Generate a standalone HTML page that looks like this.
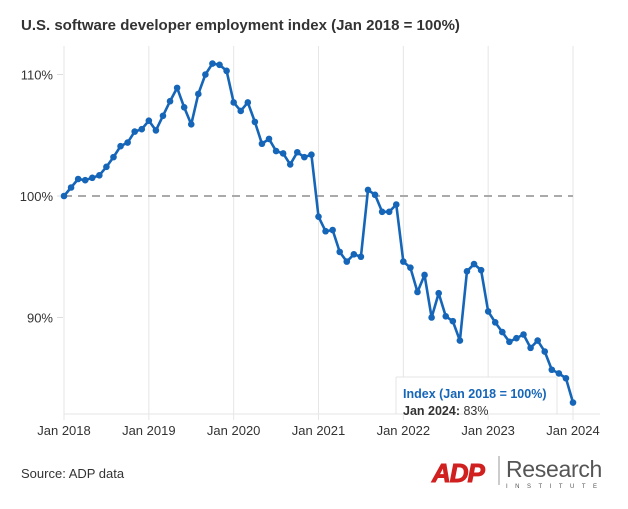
<!DOCTYPE html>
<html><head><meta charset="utf-8">
<style>
html,body{margin:0;padding:0;background:#fff;}
body{width:628px;height:504px;overflow:hidden;font-family:"Liberation Sans",sans-serif;}
</style></head>
<body>
<svg id="chart" width="628" height="504" viewBox="0 0 628 504" xmlns="http://www.w3.org/2000/svg">
<text x="21" y="30" font-size="15" font-weight="bold" fill="#333">U.S. software developer employment index (Jan 2018 = 100%)</text>
<g id="grid"></g>
<g id="series"></g>
<g>
<rect x="396" y="377" width="161" height="37" fill="#fff" stroke="#e4e4e4" rx="1"/>
<text x="403" y="398" font-size="12.5" font-weight="bold" fill="#1565b8">Index (Jan 2018 = 100%)</text>
<text x="403" y="415" font-size="12.5" fill="#333"><tspan font-weight="bold">Jan 2024:</tspan> 83%</text>
</g>
<text x="21" y="478" font-size="13" fill="#333">Source: ADP data</text>
<g>
<text x="432" y="482" font-size="26" font-weight="bold" font-style="italic" fill="#d0201f" stroke="#d0201f" stroke-width="1" letter-spacing="-1">ADP</text>
<line x1="499" y1="456" x2="499" y2="485" stroke="#999" stroke-width="1"/>
<text x="506" y="477" font-size="23" fill="#555" letter-spacing="-0.3">Research</text>
<text x="506" y="488" font-size="6" fill="#555" letter-spacing="7.5">INSTITUTE</text>
</g>
</svg>
<script>
const months = ["Jan 2018","Jan 2019","Jan 2020","Jan 2021","Jan 2022","Jan 2023","Jan 2024"];
const yTicks = [90,100,110];
const values = [100,100.7,101.4,101.3,101.5,101.7,102.4,103.2,104.1,104.4,105.3,105.5,
106.2,105.4,106.6,107.8,108.9,107.3,105.9,108.4,110.0,110.9,110.8,110.3,
107.7,107.0,107.7,106.1,104.3,104.7,103.7,103.5,102.6,103.6,103.2,103.4,
98.3,97.1,97.2,95.4,94.6,95.2,95.0,100.5,100.1,98.7,98.7,99.3,
94.6,94.1,92.1,93.5,90.0,92.0,90.1,89.7,88.1,93.8,94.4,93.9,
90.5,89.6,88.8,88.0,88.3,88.6,87.5,88.1,87.2,85.7,85.4,85.0,83.0];
const NS="http://www.w3.org/2000/svg";
const x = i => 64 + i*(509/72);
const y = v => 196 - (v-100)*12.15;
const grid=document.getElementById('grid'), ser=document.getElementById('series');
function mk(tag,attrs,parent){const e=document.createElementNS(NS,tag);for(const k in attrs)e.setAttribute(k,attrs[k]);parent.appendChild(e);return e;}
months.forEach((m,k)=>{
  const gx=x(k*12);
  const l=mk('line',{x1:gx,y1:46,x2:gx,y2:420,stroke:'#e6e6e6','stroke-width':1},grid);
  
  
  const t=mk('text',{x:gx,y:435,'font-size':13,fill:'#333','text-anchor':'middle'},grid);
  t.textContent=m;
  
  
});
const ax=mk('line',{x1:64,y1:414,x2:600,y2:414,stroke:'#e6e6e6','stroke-width':1},grid);


yTicks.forEach(v=>{
  const t=mk('text',{x:53,y:y(v)+5,'font-size':13,fill:'#333','text-anchor':'end'},grid);
  t.textContent=v+'%';
  
  
  const tk=mk('line',{x1:57,y1:y(v),x2:63,y2:y(v),stroke:'#ddd'},grid);
  
  
});
const ref=mk('line',{x1:64,y1:y(100),x2:573,y2:y(100),stroke:'#aaa','stroke-width':2,'stroke-dasharray':'8,6'},grid);


const p=mk('polyline',{points:values.map((v,i)=>x(i)+','+y(v)).join(' '),fill:'none',stroke:'#1565b8','stroke-width':2.6,'stroke-linejoin':'round'},ser);


values.forEach((v,i)=>{
  const c=mk('circle',{cx:x(i),cy:y(v),r:3.3,fill:'#1565b8'},ser);
  
  
});
</script>
</body></html>
